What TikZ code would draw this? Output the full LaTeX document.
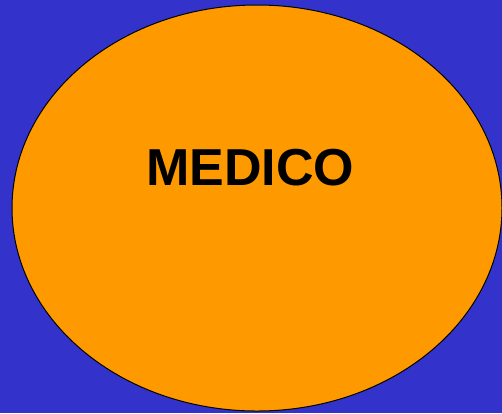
\documentclass[tikz,border=0pt]{standalone}
\usepackage{fontspec}
\setmainfont{Liberation Sans}
\usepackage{tikz}
\usetikzlibrary{shapes.geometric}

\definecolor{bgblue}{HTML}{3333CC}
\definecolor{medorange}{HTML}{FF9900}

\begin{document}
\begin{tikzpicture}[x=1pt, y=-1pt,
    blob/.style={ellipse, draw=black, line width=1pt, fill=medorange,
      minimum width=490pt, minimum height=406pt, inner sep=0pt},
    bigtext/.style={font=\fontsize{52}{60}\selectfont\bfseries, text=black, inner sep=0pt}]
  % Background
  \fill[bgblue] (0,0) rectangle (502,413);
  \useasboundingbox (0,0) rectangle (502,413);
  % Ellipse
  \node[blob] (medico) at (257,208) {};
  % Label
  \node[bigtext] (label) at (250,168) {MEDICO};
\end{tikzpicture}
\end{document}
